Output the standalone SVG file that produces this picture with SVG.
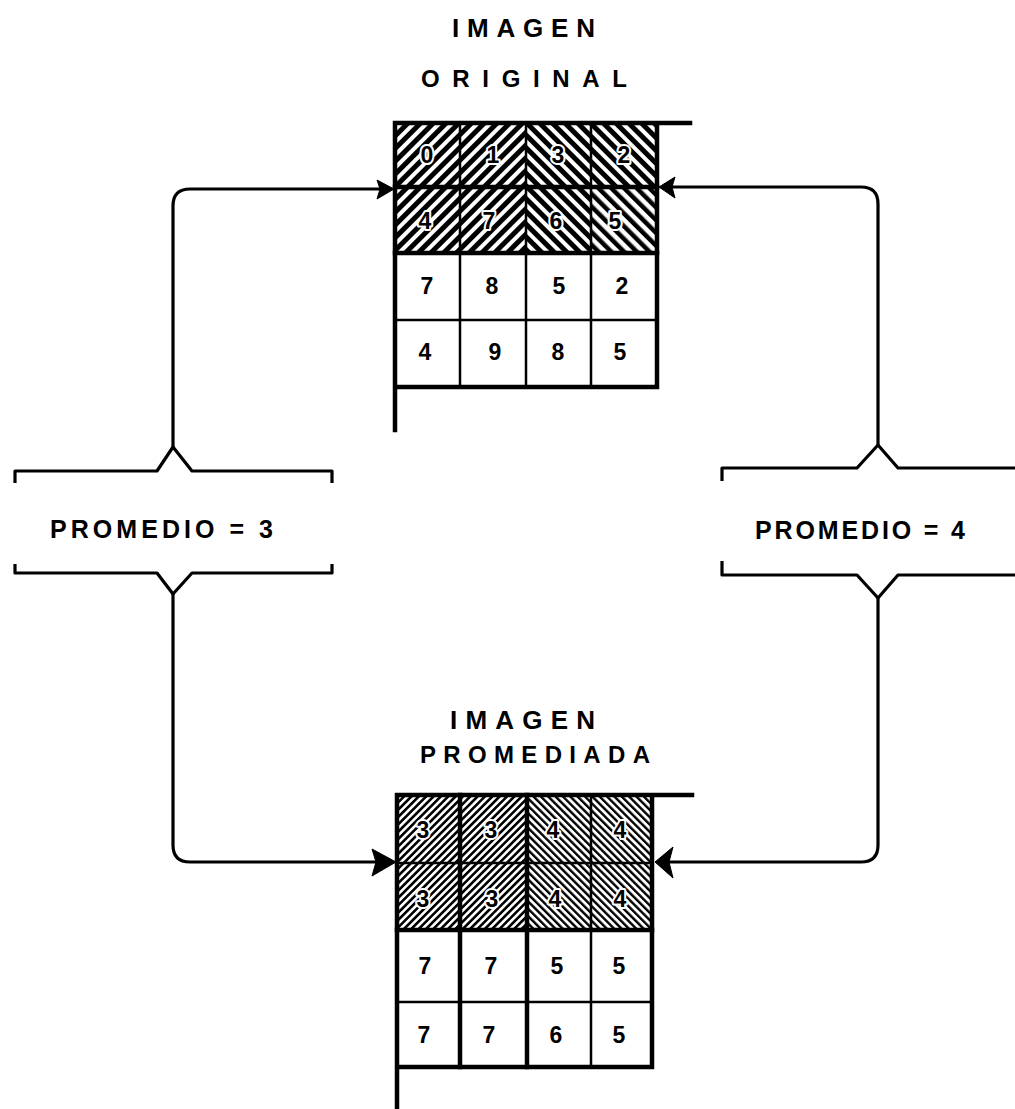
<svg xmlns="http://www.w3.org/2000/svg" width="1015" height="1109" viewBox="0 0 1015 1109">
  <defs>
    <pattern id="hatchTopR" patternUnits="userSpaceOnUse" width="9" height="9" patternTransform="rotate(45)">
      <rect width="9" height="9" fill="#000"/>
      <rect width="4" height="9" fill="#fff"/>
    </pattern>
    <pattern id="hatchTopL" patternUnits="userSpaceOnUse" width="9" height="9" patternTransform="rotate(-45)">
      <rect width="9" height="9" fill="#000"/>
      <rect width="4" height="9" fill="#fff"/>
    </pattern>
    <pattern id="hatchTopLight" patternUnits="userSpaceOnUse" width="9" height="9" patternTransform="rotate(-45)">
      <rect width="9" height="9" fill="#fff"/>
      <rect width="4.5" height="9" fill="#000"/>
    </pattern>
    <pattern id="hatchBotR" patternUnits="userSpaceOnUse" width="5.2" height="5.2" patternTransform="rotate(45)">
      <rect width="5.2" height="5.2" fill="#fff"/>
      <rect width="2.6" height="5.2" fill="#000"/>
    </pattern>
    <pattern id="hatchBotL" patternUnits="userSpaceOnUse" width="5.2" height="5.2" patternTransform="rotate(-45)">
      <rect width="5.2" height="5.2" fill="#fff"/>
      <rect width="2.4" height="5.2" fill="#000"/>
    </pattern>
  </defs>
  <style>
    .title { font-family: "Liberation Sans", "DejaVu Sans", sans-serif; font-weight: bold; fill: #000; }
    .digit { font-family: "Liberation Sans", "DejaVu Sans", sans-serif; font-weight: bold; font-size: 23px; fill: #000; text-anchor: middle; }
    .halo { stroke: #fff; stroke-width: 4px; paint-order: stroke; stroke-linejoin: round; }
    .thick { stroke: #000; stroke-width: 4.5; fill: none; stroke-linecap: square; }
    .grid { stroke: #000; stroke-width: 2.5; fill: none; }
    .line { stroke: #000; stroke-width: 3.2; fill: none; stroke-linejoin: round; }
    .head { fill: #000; stroke: #000; stroke-width: 1; stroke-linejoin: round; }
  </style>
  <rect width="1015" height="1109" fill="#fff"/>

  <g id="title-original">
    <text class="title" x="452" y="37" font-size="26" textLength="143" lengthAdjust="spacing">IMAGEN</text>
    <text class="title" x="421" y="87" font-size="24" textLength="206" lengthAdjust="spacing">ORIGINAL</text>
  </g>

  <g id="grid-original">
    <rect x="395" y="123" width="65" height="64" fill="url(#hatchTopR)"/>
    <rect x="460" y="123" width="66" height="64" fill="url(#hatchTopR)"/>
    <rect x="526" y="123" width="65" height="64" fill="url(#hatchTopL)"/>
    <rect x="591" y="123" width="66" height="64" fill="url(#hatchTopL)"/>
    <rect x="395" y="187" width="65" height="66" fill="url(#hatchTopR)"/>
    <rect x="460" y="187" width="66" height="66" fill="url(#hatchTopR)"/>
    <rect x="526" y="187" width="65" height="66" fill="url(#hatchTopL)"/>
    <rect x="591" y="187" width="66" height="66" fill="url(#hatchTopLight)"/>
    <path class="grid" d="M460,123 V387 M526,123 V387 M591,123 V387 M395,320 H657"/>
    <path class="thick" d="M395,187 H657 M395,253 H657"/>
    <path class="thick" d="M395,123 H690 M395,123 V430 M657,123 V387 M395,387 H657"/>
    <text class="digit halo" x="427" y="163">0</text>
    <text class="digit halo" x="493" y="163">1</text>
    <text class="digit halo" x="558" y="163">3</text>
    <text class="digit halo" x="624" y="163">2</text>
    <text class="digit halo" x="425" y="229">4</text>
    <text class="digit halo" x="489" y="229">7</text>
    <text class="digit halo" x="556" y="229">6</text>
    <text class="digit halo" x="615" y="229">5</text>
    <text class="digit" x="427" y="294">7</text>
    <text class="digit" x="492" y="294">8</text>
    <text class="digit" x="559" y="294">5</text>
    <text class="digit" x="622" y="294">2</text>
    <text class="digit" x="425" y="360">4</text>
    <text class="digit" x="495" y="360">9</text>
    <text class="digit" x="558" y="360">8</text>
    <text class="digit" x="620" y="360">5</text>
  </g>

  <g id="promedio-3">
    <path class="line" d="M15,483 V471 H157 L173,447 L192,471 H332 V483"/>
    <text class="title" x="50" y="538" font-size="25" textLength="223" lengthAdjust="spacing">PROMEDIO = 3</text>
    <path class="line" d="M15,564 V573 H157 L173,594 L192,573 H332 V564"/>
  </g>

  <g id="promedio-4">
    <path class="line" d="M722,481 V468 H857 L878,445 L898,468 H1015"/>
    <text class="title" x="755" y="539" font-size="25" textLength="210" lengthAdjust="spacing">PROMEDIO = 4</text>
    <path class="line" d="M722,561 V575 H857 L878,598 L898,575 H1015"/>
  </g>

  <g id="title-promediada">
    <text class="title" x="450" y="729" font-size="26" textLength="145" lengthAdjust="spacing">IMAGEN</text>
    <text class="title" x="420" y="763" font-size="24" textLength="230" lengthAdjust="spacing">PROMEDIADA</text>
  </g>

  <g id="grid-promediada">
    <rect x="397" y="795" width="63" height="135" fill="url(#hatchBotR)"/>
    <rect x="460" y="795" width="67" height="135" fill="url(#hatchBotR)"/>
    <rect x="527" y="795" width="64" height="135" fill="url(#hatchBotL)"/>
    <rect x="591" y="795" width="61" height="135" fill="url(#hatchBotL)"/>
    <path class="grid" d="M397,863 H652 M397,1002 H652 M591,795 V1067"/>
    <path class="thick" d="M460,795 V1067 M527,795 V1067 M397,930 H652"/>
    <path class="thick" d="M397,795 H692 M397,795 V1109 M652,795 V1067 M397,1067 H652"/>
    <text class="digit halo" x="423" y="838">3</text>
    <text class="digit halo" x="491" y="838">3</text>
    <text class="digit halo" x="553" y="838">4</text>
    <text class="digit halo" x="620" y="838">4</text>
    <text class="digit halo" x="423" y="907">3</text>
    <text class="digit halo" x="492" y="907">3</text>
    <text class="digit halo" x="555" y="907">4</text>
    <text class="digit halo" x="620" y="907">4</text>
    <text class="digit" x="425" y="974">7</text>
    <text class="digit" x="491" y="974">7</text>
    <text class="digit" x="557" y="974">5</text>
    <text class="digit" x="619" y="974">5</text>
    <text class="digit" x="424" y="1043">7</text>
    <text class="digit" x="489" y="1043">7</text>
    <text class="digit" x="556" y="1043">6</text>
    <text class="digit" x="619" y="1043">5</text>
  </g>

  <g id="connectors">
    <path class="line" d="M173,447 V206 Q173,189 190,189 H380"/>
    <polygon class="head" points="394,189 377,180 380,189 377,199"/>
    <path class="line" d="M878,445 V204 Q878,187 861,187 H671"/>
    <polygon class="head" points="659,187 675,177 672,187 675,198"/>
    <path class="line" d="M173,594 V845 Q173,862 190,862 H376"/>
    <polygon class="head" points="396,862 372,849 376,862 372,876"/>
    <path class="line" d="M878,598 V845 Q878,862 861,862 H669"/>
    <polygon class="head" points="655,862 673,847 669,862 673,878"/>
  </g>
</svg>
